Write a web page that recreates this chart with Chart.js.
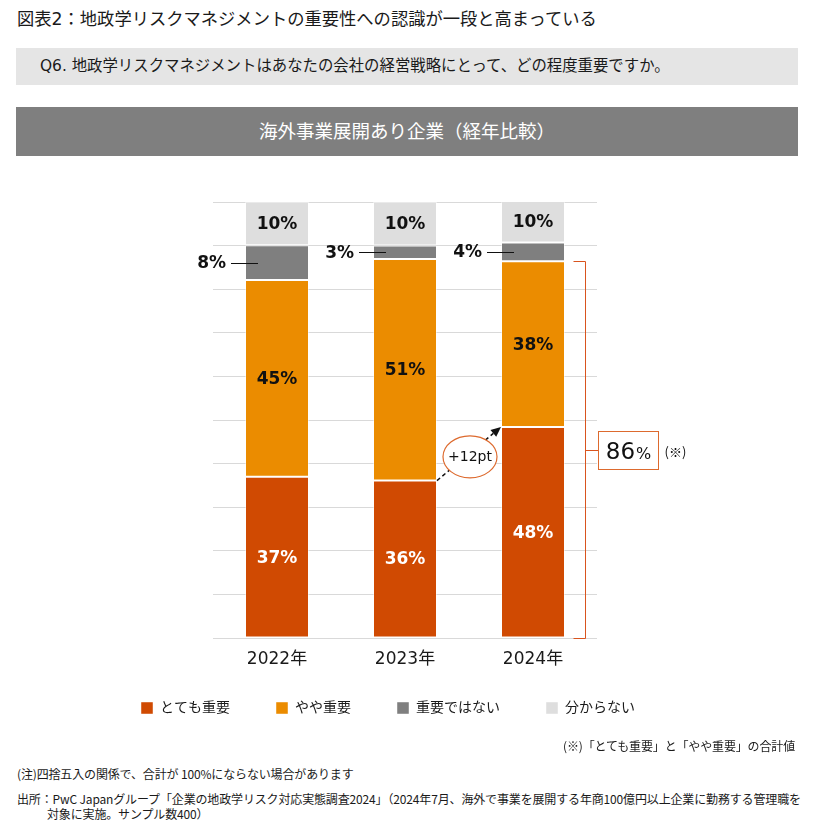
<!DOCTYPE html>
<html><head><meta charset="utf-8">
<script src="https://cdn.jsdelivr.net/npm/chart.js@4.4.1/dist/chart.umd.min.js"></script>
<style>
html,body{margin:0;padding:0;background:#fff;}
body{width:817px;height:833px;position:relative;overflow:hidden;font-family:"DejaVu Sans","Noto Sans CJK JP",sans-serif;color:#1a1a1a;}
.abs{position:absolute;white-space:nowrap;}
#title{left:17px;top:8px;font-size:17.3px;line-height:22px;}
#qband{left:16px;top:48px;width:782px;height:37px;background:#e5e5e5;}
#qtext{left:40px;top:48px;height:37px;line-height:37px;font-size:15.4px;}
#hband{left:16px;top:107px;width:782px;height:49px;background:#7f7f7f;color:#fff;text-align:center;line-height:49px;font-size:18.5px;}
#chartbox{left:0;top:160px;width:776px;height:584px;}
#c{display:block;}
.foot{font-size:12px;line-height:15px;font-family:"Noto Sans CJK JP",sans-serif;letter-spacing:-0.15px;}
</style>
</head>
<body>
<div class="abs" id="title">図表2：地政学リスクマネジメントの重要性への認識が一段と高まっている</div>
<div class="abs" id="qband"></div>
<div class="abs" id="qtext">Q6. 地政学リスクマネジメントはあなたの会社の経営戦略にとって、どの程度重要ですか。</div>
<div class="abs" id="hband">海外事業展開あり企業（経年比較）</div>
<div class="abs" id="chartbox"><canvas id="c" width="776" height="584"></canvas></div>
<div class="abs foot" style="right:22px;top:738px;">(※)「とても重要」と「やや重要」の合計値</div>
<div class="abs foot" style="left:17px;top:766px;">(注)四捨五入の関係で、合計が 100%にならない場合があります</div>
<div class="abs foot" style="left:17px;top:791px;">出所：PwC Japanグループ「企業の地政学リスク対応実態調査2024」（2024年7月、海外で事業を展開する年商100億円以上企業に勤務する管理職を</div>
<div class="abs foot" style="left:47px;top:806px;">対象に実施。サンプル数400）</div>
<script>
const years = ['2022年', '2023年', '2024年'];
const seriesNames = ['とても重要', 'やや重要', '重要ではない', '分からない'];
const veryImportant = [37.0, 36.1, 48.4];
const somewhatImportant = [45.1, 50.8, 38.0];
const notImportant = [8.0, 3.1, 4.3];
const dontKnow = [9.9, 10.0, 9.5];
const seriesColors = ['#D04A02', '#EB8C00', '#7F7F7F', '#DEDEDE'];
const yMin = 0, yMax = 100, yStep = 10;

const seriesValues = [veryImportant, somewhatImportant, notImportant, dontKnow];

const segLabels = {
  id: 'segLabels',
  afterDatasetsDraw(chart) {
    const ctx = chart.ctx;
    ctx.save();
    ctx.font = 'bold 17px "DejaVu Sans"';
    ctx.textBaseline = 'middle';
    chart.data.datasets.forEach((ds, di) => {
      const meta = chart.getDatasetMeta(di);
      meta.data.forEach((bar, i) => {
        const txt = Math.round(ds.data[i]) + '%';
        const mid = (bar.y + bar.base) / 2;
        const left = bar.x - bar.width / 2;
        if (di === 2) {
          ctx.textAlign = 'right';
          ctx.fillStyle = '#111';
          ctx.fillText(txt, left - 19, mid + 1);
          ctx.strokeStyle = '#111';
          ctx.lineWidth = 1;
          ctx.beginPath();
          ctx.moveTo(left - 14, Math.round(mid) + 0.5);
          ctx.lineTo(left + 13, Math.round(mid) + 0.5);
          ctx.stroke();
        } else {
          ctx.textAlign = 'center';
          ctx.fillStyle = di === 0 ? '#fff' : '#111';
          ctx.fillText(txt, bar.x, mid + 1);
        }
      });
    });
    ctx.restore();
  }
};

const annot = {
  id: 'annot',
  afterLayout(chart) {
    const lg = chart.legend;
    if (lg) {
      const h = lg.height;
      lg.top = chart.chartArea.bottom + 17;
      lg.bottom = lg.top + h;
    }
  },
  afterDatasetsDraw(chart) {
    const ctx = chart.ctx;
    const ys = chart.scales.y;
    const m0 = chart.getDatasetMeta(0), m1 = chart.getDatasetMeta(1);
    const r23 = m0.data[1], r24 = m0.data[2], o24 = m1.data[2];
    ctx.save();
    // dashed arrow
    const x1 = r23.x + r23.width / 2, y1 = r23.y;
    const x2 = r24.x - r24.width / 2, y2 = r24.y;
    const ang = Math.atan2(y2 - y1, x2 - x1);
    const hl = 10;
    ctx.strokeStyle = '#111';
    ctx.lineWidth = 1.5;
    ctx.setLineDash([4, 3]);
    ctx.beginPath();
    ctx.moveTo(x1, y1);
    ctx.lineTo(x2 - hl * Math.cos(ang), y2 - hl * Math.sin(ang));
    ctx.stroke();
    ctx.setLineDash([]);
    ctx.fillStyle = '#111';
    ctx.beginPath();
    ctx.moveTo(x2, y2);
    ctx.lineTo(x2 - hl * Math.cos(ang) + 4.5 * Math.sin(ang), y2 - hl * Math.sin(ang) - 4.5 * Math.cos(ang));
    ctx.lineTo(x2 - hl * Math.cos(ang) - 4.5 * Math.sin(ang), y2 - hl * Math.sin(ang) + 4.5 * Math.cos(ang));
    ctx.closePath();
    ctx.fill();
    // ellipse
    const cx = (x1 + x2) / 2 + 1, cy = (y1 + y2) / 2 + 3;
    ctx.beginPath();
    ctx.ellipse(cx, cy, 27, 21, 0, 0, Math.PI * 2);
    ctx.fillStyle = '#fff';
    ctx.fill();
    ctx.strokeStyle = '#DD6A2E';
    ctx.lineWidth = 1.2;
    ctx.stroke();
    const diff = Math.round(veryImportant[2] - veryImportant[1]);
    ctx.fillStyle = '#111';
    ctx.font = '14px "DejaVu Sans"';
    ctx.textAlign = 'center';
    ctx.textBaseline = 'middle';
    ctx.fillText('+' + diff + 'pt', cx, cy + 1);
    // bracket
    const bx = r24.x + r24.width / 2 + 20.5;
    const top = Math.round(o24.y) + 0.5, bot = Math.round(ys.getPixelForValue(0)) + 0.5;
    ctx.strokeStyle = '#D9541E';
    ctx.lineWidth = 1;
    ctx.beginPath();
    ctx.moveTo(bx - 12, top); ctx.lineTo(bx, top); ctx.lineTo(bx, bot); ctx.lineTo(bx - 12, bot);
    const my = Math.round((top + bot) / 2) + 0.5;
    ctx.moveTo(bx, my); ctx.lineTo(bx + 13, my);
    ctx.stroke();
    // box
    const boxL = bx + 13, boxW = 60, boxH = 38;
    ctx.fillStyle = '#fff';
    ctx.fillRect(boxL, my - boxH / 2, boxW, boxH);
    ctx.strokeStyle = '#DD6A2E';
    ctx.strokeRect(boxL, my - boxH / 2, boxW, boxH);
    const total = Math.round(veryImportant[2] + somewhatImportant[2]);
    ctx.fillStyle = '#111';
    ctx.textAlign = 'left';
    ctx.textBaseline = 'alphabetic';
    ctx.font = '23px "DejaVu Sans"';
    const tw = ctx.measureText(String(total)).width;
    ctx.font = '16px "DejaVu Sans"';
    const pw = ctx.measureText('%').width;
    const sx = boxL + boxW / 2 - (tw + pw + 1) / 2;
    ctx.font = '23px "DejaVu Sans"';
    ctx.fillText(String(total), sx, my + 8);
    ctx.font = '16px "DejaVu Sans"';
    ctx.fillText('%', sx + tw + 1, my + 8);
    ctx.font = '13px "Noto Sans CJK JP"';
    ctx.textBaseline = 'middle';
    ctx.fillText('(※)', boxL + boxW + 6, my + 2);
    ctx.restore();
  }
};

new Chart(document.getElementById('c'), {
  type: 'bar',
  data: {
    labels: years,
    datasets: seriesNames.map((name, i) => ({
      label: name,
      data: seriesValues[i],
      backgroundColor: seriesColors[i],
      borderColor: 'rgba(255,255,255,0.45)',
      borderWidth: 1,
      borderSkipped: false,
      barPercentage: 0.5,
      categoryPercentage: 1.0
    }))
  },
  options: {
    responsive: false,
    animation: false,
    layout: { padding: { top: 42, left: 0, right: 0, bottom: 0 } },
    scales: {
      x: {
        stacked: true,
        grid: { display: false, drawTicks: false },
        border: { display: false },
        ticks: { color: '#1a1a1a', padding: 11, font: { family: '"DejaVu Sans", "Noto Sans CJK JP"', size: 17 } },
        afterFit(s) { s.height = 36; }
      },
      y: {
        stacked: true,
        min: yMin, max: yMax,
        ticks: { display: false, stepSize: yStep },
        grid: { color: '#d9d9d9', lineWidth: 1, drawTicks: false },
        border: { display: false },
        afterFit(s) { s.width = 213; }
      },
      y2: {
        position: 'right',
        min: yMin, max: yMax,
        ticks: { display: false },
        grid: { display: false, drawTicks: false },
        border: { display: false },
        afterFit(s) { s.width = 179; }
      }
    },
    plugins: {
      legend: {
        position: 'bottom',
        labels: {
          boxWidth: 12, boxHeight: 12, padding: 46, color: '#1a1a1a',
          font: { family: '"DejaVu Sans", "Noto Sans CJK JP"', size: 14 }
        }
      },
      tooltip: { enabled: false }
    }
  },
  plugins: [segLabels, annot]
});
</script>
</body></html>
